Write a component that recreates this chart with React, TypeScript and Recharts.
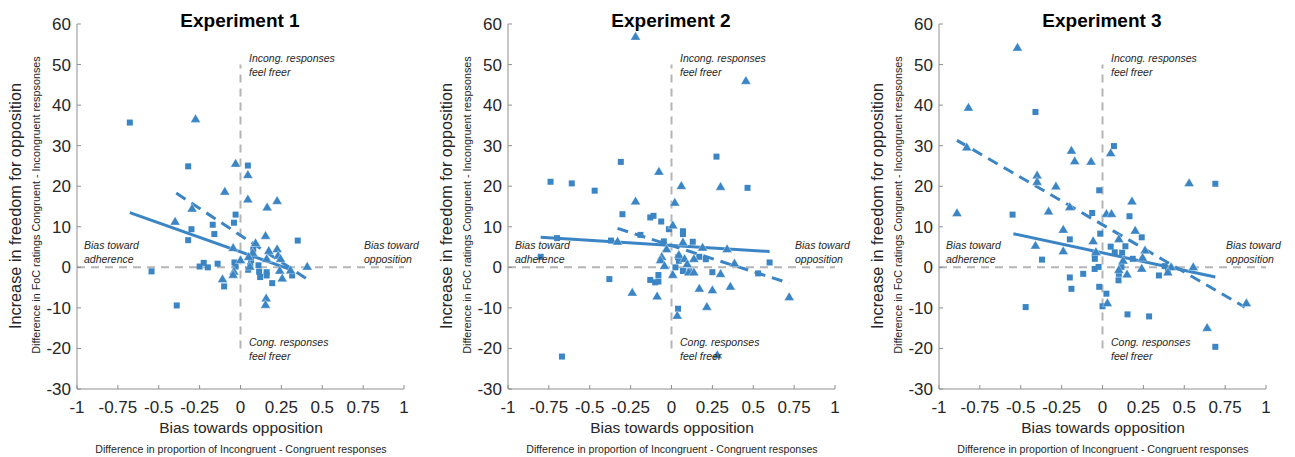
import React from "react";
import {
  ScatterChart,
  Scatter,
  XAxis,
  YAxis,
  ReferenceLine,
} from "recharts";

const BLUE = "#3b85c5";
const AXIS = "#8f8f8f";
const FONT = "'Liberation Sans', Arial, Helvetica, sans-serif";

const xTicks = [-1, -0.75, -0.5, -0.25, 0, 0.25, 0.5, 0.75, 1];
const yTicks = [-30, -20, -10, 0, 10, 20, 30, 40, 50, 60];
const titles = ["Experiment 1", "Experiment 2", "Experiment 3"];

// [x, y] : bias towards opposition, increase in freedom
const exp1Squares = [
  [-0.677, 35.7], [-0.32, 24.9], [-0.3, 9.4], [-0.32, 6.7], [-0.544, -1.0], [-0.39, -9.4],
  [-0.25, 0.2], [-0.225, 1.1], [-0.2, 0], [-0.14, 0.9], [-0.17, 10.5], [-0.16, 8.2],
  [-0.1, -4.7], [-0.03, 13.0], [-0.04, 11.0], [0.045, 25.1], [-0.037, 1.2], [-0.03, 0.2],
  [0.047, -0.6], [0.065, 1.8], [0.078, 4.4], [0.11, 0.5], [0.114, -1.1], [0.12, -2.4],
  [0.16, -1.2], [0.16, -2.0], [0.194, -3.9], [0.316, -2.0], [0.35, 6.6], [0.06, 0.4],
];
const exp1Triangles = [
  [-0.275, 36.6], [-0.03, 25.6], [0.045, 22.8], [0.045, 16.8], [-0.096, 18.7], [0.224, 16.4],
  [0.163, 14.8], [-0.296, 14.5], [-0.4, 11.3], [0.153, 7.8], [0.092, 6.0], [-0.045, 4.8],
  [0.224, 4.5], [0.173, 4.1], [0.075, 3.6], [0.23, 2.9], [0.0, 1.8], [0.05, 2.6],
  [0.16, 2.1], [0.245, 2.1], [0.306, -0.7], [0.408, 0.2], [-0.04, -1.0], [-0.045, -1.8],
  [-0.11, -2.9], [0.24, -0.8], [0.255, -2.7], [0.157, -7.6], [0.153, -9.2], [0.057, 0.2],
];
const exp1Solid = [[-0.677, 13.5], [0.316, -0.7]];
const exp1Dashed = [[-0.393, 18.3], [0.408, -2.9]];

const exp2Squares = [
  [-0.74, 21.1], [-0.61, 20.7], [-0.47, 18.9], [-0.31, 26.0], [-0.3, 13.1], [-0.13, 12.3],
  [-0.11, 12.7], [-0.063, 11.3], [-0.19, 8.0], [-0.016, 9.4], [-0.37, 6.6], [-0.7, 7.2],
  [-0.8, 2.6], [-0.38, -2.9], [-0.67, -22.0], [-0.13, -3.1], [-0.1, -3.7], [-0.08, -3.5],
  [-0.08, -1.9], [-0.047, 6.4], [0.07, 8.9], [0.07, 8.2], [0.13, 6.3], [0.275, 27.3],
  [0.465, 19.6], [0.6, 1.2], [0.53, -1.5], [0.25, -1.2], [0.21, 2.0], [0.04, -10.2],
  [0.024, 0], [0.045, 1.6], [0.04, 2.5], [0.17, 2.6], [0.07, -0.9], [0.11, -1.0],
];
const exp2Triangles = [
  [-0.22, 56.9], [0.455, 46.0], [-0.077, 23.6], [0.06, 20.1], [0.3, 19.9], [-0.22, 16.3],
  [0.02, 16.0], [0.008, 10.4], [-0.33, 6.4], [0.07, 6.2], [0.19, 4.9], [0.34, 4.5],
  [-0.03, 4.5], [-0.06, 2.6], [-0.067, 1.8], [-0.043, 0.4], [0.045, 3.1], [0.08, 2.1],
  [0.137, 2.1], [0.385, 1.0], [0.008, -1.8], [0.106, -1.2], [0.137, -1.2], [0.3, -1.6],
  [-0.24, -6.2], [-0.088, -7.1], [0.17, -5.2], [0.25, -5.6], [0.36, -4.7], [0.216, -9.7],
  [0.035, -11.9], [0.28, -21.6], [0.72, -7.3], [0.096, 0.8],
];
const exp2Solid = [[-0.8, 7.4], [0.6, 3.9]];
const exp2Dashed = [[-0.33, 9.6], [0.72, -3.9]];

const exp3Squares = [
  [-0.41, 38.3], [0.07, 29.9], [0.69, 20.6], [-0.02, 19.0], [-0.55, 13.0], [-0.063, 13.4],
  [0.165, 12.6], [-0.2, 6.9], [-0.014, 8.3], [0.05, 5.1], [0.075, 3.7], [0.12, 3.6],
  [0.14, 5.2], [0.24, 7.4], [-0.37, 1.9], [-0.047, 3.2], [-0.047, 2.1], [-0.024, 0.1],
  [-0.048, -0.4], [-0.2, -2.5], [-0.118, -1.6], [-0.19, -5.3], [-0.02, -4.8], [0.024, -6.5],
  [0.0, -9.6], [-0.47, -9.8], [0.153, -11.6], [0.285, -12.1], [0.098, -3.2], [0.185, 2.1],
  [0.345, -2.0], [0.38, 0.3], [0.4, -0.9], [0.69, -19.6], [0.116, 0.1], [0.1, -1.6],
];
const exp3Triangles = [
  [-0.52, 54.2], [-0.82, 39.4], [-0.83, 29.6], [-0.19, 28.8], [-0.17, 26.2], [-0.07, 26.1],
  [0.05, 28.2], [-0.4, 22.7], [-0.4, 21.1], [-0.285, 20.0], [0.53, 20.8], [0.18, 16.3],
  [-0.89, 13.4], [-0.2, 14.9], [-0.33, 13.8], [0.024, 13.2], [0.055, 13.2], [-0.24, 9.3],
  [0.2, 9.1], [0.1, 7.0], [-0.057, 6.5], [-0.41, 5.4], [-0.24, 4.0], [-0.04, 3.8],
  [0.26, 4.2], [0.245, 2.4], [0.24, -0.3], [0.15, -1.7], [0.1, -0.6], [0.555, 0.1],
  [0.42, 0.1], [0.4, -1.2], [0.03, -8.8], [0.88, -8.8], [0.64, -14.9], [0.126, 1.7],
];
const exp3Solid = [[-0.545, 8.3], [0.69, -2.4]];
const exp3Dashed = [[-0.89, 31.3], [0.87, -9.8]];

const panels = [
  { squares: exp1Squares, triangles: exp1Triangles, solid: exp1Solid, dashed: exp1Dashed },
  { squares: exp2Squares, triangles: exp2Triangles, solid: exp2Solid, dashed: exp2Dashed },
  { squares: exp3Squares, triangles: exp3Triangles, solid: exp3Solid, dashed: exp3Dashed },
];

const toPts = (arr: number[][]) => arr.map(([x, y]) => ({ x, y }));

const SquareDot = (p: any) => (
  <rect x={p.cx - 3} y={p.cy - 3} width={6} height={6} fill={BLUE} />
);

const TriangleDot = (p: any) => (
  <polygon
    points={`${p.cx},${p.cy - 5} ${p.cx - 5},${p.cy + 3.5} ${p.cx + 5},${p.cy + 3.5}`}
    fill={BLUE}
    stroke="#ffffff"
    strokeOpacity={0.6}
    strokeWidth={0.6}
  />
);

const XTick = (p: any) => {
  const axisY = p.y - 8;
  return (
    <g>
      <line x1={p.x} x2={p.x} y1={axisY} y2={axisY - 4} stroke={AXIS} />
      <text x={p.x} y={axisY + 24} textAnchor="middle" fontSize={17} fill="#262626" fontFamily={FONT}>
        {p.payload.value}
      </text>
    </g>
  );
};

const YTick = (p: any) => {
  const axisX = p.x + 6;
  return (
    <g>
      <line x1={axisX} x2={axisX + 4} y1={p.y} y2={p.y} stroke={AXIS} />
      <text x={axisX - 6} y={p.y + 6} textAnchor="end" fontSize={17} fill="#262626" fontFamily={FONT}>
        {p.payload.value}
      </text>
    </g>
  );
};

const note: React.CSSProperties = {
  position: "absolute",
  fontFamily: FONT,
  fontStyle: "italic",
  fontSize: 10.5,
  lineHeight: "14px",
  color: "#262626",
  whiteSpace: "nowrap",
};

function Panel({ index }: { index: number }) {
  const d = panels[index];
  return (
    <div style={{ position: "absolute", left: index * 431, top: 0, width: 430, height: 457 }}>
      <ScatterChart width={430} height={457} margin={{ top: 24, right: 26, bottom: 38, left: 37 }}>
        <XAxis
          type="number"
          dataKey="x"
          domain={[-1, 1]}
          ticks={xTicks}
          interval={0}
          height={30}
          tickSize={0}
          tickMargin={8}
          tickLine={false}
          axisLine={{ stroke: AXIS }}
          tick={<XTick />}
        />
        <YAxis
          type="number"
          dataKey="y"
          domain={[-30, 60]}
          ticks={yTicks}
          interval={0}
          width={40}
          tickSize={0}
          tickMargin={6}
          tickLine={false}
          axisLine={{ stroke: AXIS }}
          tick={<YTick />}
        />
        <ReferenceLine y={0} stroke="#b5b5b5" strokeWidth={2} strokeDasharray="8 6" />
        <ReferenceLine
          segment={[{ x: 0, y: -20 }, { x: 0, y: 50 }]}
          stroke="#b5b5b5"
          strokeWidth={2}
          strokeDasharray="8 6"
        />
        <Scatter data={toPts(d.squares)} shape={SquareDot} isAnimationActive={false} />
        <Scatter data={toPts(d.triangles)} shape={TriangleDot} isAnimationActive={false} />
        <ReferenceLine
          segment={toPts(d.solid) as any}
          stroke={BLUE}
          strokeWidth={3}
        />
        <ReferenceLine
          segment={toPts(d.dashed) as any}
          stroke={BLUE}
          strokeWidth={3}
          strokeDasharray="11 7"
        />
      </ScatterChart>

      <div
        style={{
          position: "absolute", left: 240, top: 21, transform: "translate(-50%,-50%)",
          fontFamily: FONT, fontWeight: "bold", fontSize: 19, whiteSpace: "nowrap", color: "#000",
        }}
      >
        {titles[index]}
      </div>
      <div
        style={{
          position: "absolute", left: 15, top: 206, transform: "translate(-50%,-50%) rotate(-90deg)",
          fontFamily: FONT, fontSize: 16.3, whiteSpace: "nowrap", color: "#262626",
        }}
      >
        Increase in freedom for opposition
      </div>
      <div
        style={{
          position: "absolute", left: 36, top: 205, transform: "translate(-50%,-50%) rotate(-90deg)",
          fontFamily: FONT, fontSize: 10.8, whiteSpace: "nowrap", color: "#262626",
        }}
      >
        Difference in FoC ratings Congruent - Incongruent respsonses
      </div>
      <div
        style={{
          position: "absolute", left: 241, top: 428, transform: "translate(-50%,-50%)",
          fontFamily: FONT, fontSize: 15.5, whiteSpace: "nowrap", color: "#262626",
        }}
      >
        Bias towards opposition
      </div>
      <div
        style={{
          position: "absolute", left: 241, top: 449, transform: "translate(-50%,-50%)",
          fontFamily: FONT, fontSize: 10.6, whiteSpace: "nowrap", color: "#262626",
        }}
      >
        Difference in proportion of Incongruent - Congruent responses
      </div>
      <div style={{ ...note, left: 249, top: 51 }}>Incong. responses<br />feel freer</div>
      <div style={{ ...note, left: 249, top: 335 }}>Cong. responses<br />feel freer</div>
      <div style={{ ...note, left: 84, top: 238 }}>Bias toward<br />adherence</div>
      <div style={{ ...note, left: 364, top: 238 }}>Bias toward<br />opposition</div>
    </div>
  );
}

export default function App() {
  return (
    <div style={{ position: "absolute", left: 0, top: 0, width: 1295, height: 457, background: "#fff" }}>
      {[0, 1, 2].map((i) => (
        <Panel key={i} index={i} />
      ))}
    </div>
  );
}
